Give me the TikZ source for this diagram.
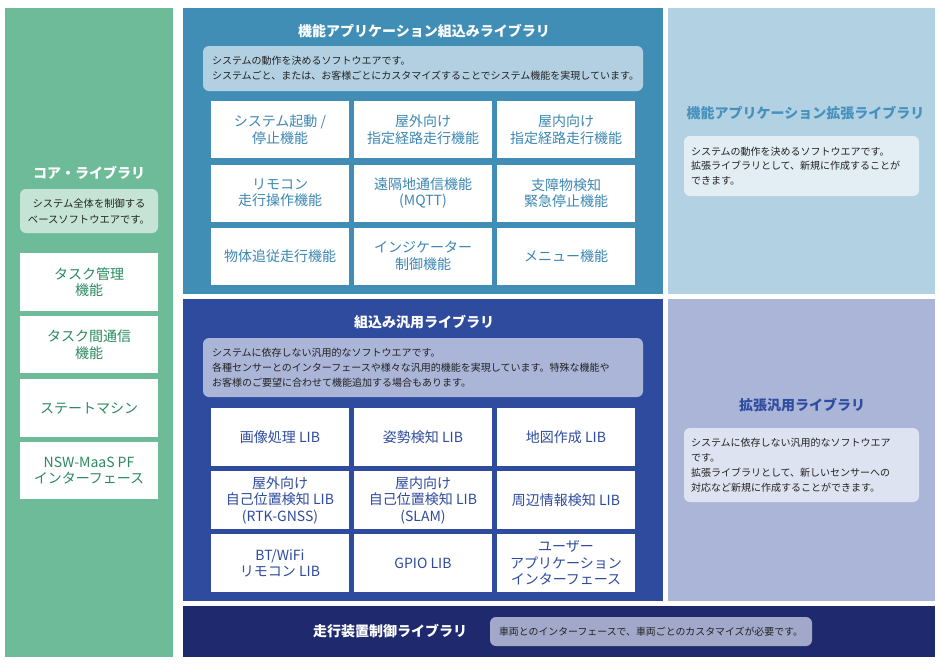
\documentclass[tikz,border=0pt]{standalone}
\usepackage{fontspec}
\setmainfont{Noto Sans CJK JP}
\definecolor{gPanel}{HTML}{6DBB99}
\definecolor{gNote}{HTML}{C6E4D6}
\definecolor{gText}{HTML}{2B8A5F}
\definecolor{bPanel}{HTML}{408EB6}
\definecolor{bNote}{HTML}{B2D0E2}
\definecolor{bText}{HTML}{3C87B2}
\definecolor{bxPanel}{HTML}{B2D1E2}
\definecolor{bxTitle}{HTML}{4791BD}
\definecolor{bxNote}{HTML}{E2EDF4}
\definecolor{nPanel}{HTML}{2E4B9E}
\definecolor{nNote}{HTML}{AAB5D8}
\definecolor{nxPanel}{HTML}{AAB5D8}
\definecolor{nxTitle}{HTML}{2F4DA0}
\definecolor{nxNote}{HTML}{DEE3F1}
\definecolor{dPanel}{HTML}{1E2A6D}
\definecolor{dNote}{HTML}{A2A8C9}
\definecolor{noteText}{HTML}{222222}
\begin{document}
\begin{tikzpicture}[x=1pt,y=-1pt,
  panel/.style={rectangle,inner sep=0pt,draw=none},
  cell/.style={rectangle,fill=white,inner sep=0pt,minimum width=138pt,align=center,
    font=\fontsize{14pt}{16.5pt}\selectfont},
  note/.style={rectangle,rounded corners=6pt,inner ysep=0pt,text=noteText,
    font=\fontsize{10pt}{15pt}\selectfont},
  ttl/.style={font=\bfseries\fontsize{14pt}{16pt}\selectfont,inner sep=0pt}]
\useasboundingbox (0,0) rectangle (940,665);
\fill[white] (0,0) rectangle (940,665);
% panels
\node[panel,fill=gPanel,minimum width=168pt,minimum height=649pt] (core) at (89,332.5) {};
\node[panel,fill=bPanel,minimum width=480pt,minimum height=286pt] (app) at (423,151) {};
\node[panel,fill=bxPanel,minimum width=267pt,minimum height=286pt] (appx) at (801.5,151) {};
\node[panel,fill=nPanel,minimum width=480pt,minimum height=302pt] (gen) at (423,450) {};
\node[panel,fill=nxPanel,minimum width=267pt,minimum height=302pt] (genx) at (801.5,450) {};
\node[panel,fill=dPanel,minimum width=752pt,minimum height=51pt] (drv) at (559,631.5) {};
% core library
\node[ttl,text=white] (coreT) at (89,173) {コア・ライブラリ};
\node[note,fill=gNote,minimum width=138pt,minimum height=44pt,align=center,
  font=\fontsize{10.3pt}{16pt}\selectfont] (coreN) at (89,211) {システム全体を制御する\\ベースソフトウエアです。};
\begin{scope}[every node/.style={cell,text=gText}]
\node[minimum height=58pt] (c1) at (89,282) {タスク管理\\機能};
\node[minimum height=57pt] (c2) at (89,344.5) {タスク間通信\\機能};
\node[minimum height=58pt] (c3) at (89,408) {ステートマシン};
\node[minimum height=57pt] (c4) at (89,470.5) {NSW-MaaS PF\\インターフェース};
\end{scope}
% app library
\node[ttl,text=white] (appT) at (424,31) {機能アプリケーション組込みライブラリ};
\node[note,fill=bNote,text width=422pt,inner xsep=9pt,minimum height=45pt,align=left] (appN) at (423,68.5)
  {システムの動作を決めるソフトウエアです。\\システムごと、または、お客様ごとにカスタマイズすることでシステム機能を実現しています。};
\begin{scope}[every node/.style={cell,text=bText,minimum height=57pt}]
\node (a1) at (280,129.5) {システム起動 /\\停止機能};
\node (a2) at (423,129.5) {屋外向け\\指定経路走行機能};
\node (a3) at (566,129.5) {屋内向け\\指定経路走行機能};
\node (a4) at (280,193) {リモコン\\走行操作機能};
\node (a5) at (423,193) {遠隔地通信機能\\(MQTT)};
\node (a6) at (566,193) {支障物検知\\緊急停止機能};
\node (a7) at (280,256) {物体追従走行機能};
\node (a8) at (423,256) {インジケーター\\制御機能};
\node (a9) at (566,256) {メニュー機能};
\end{scope}
% app extension
\node[ttl,text=bxTitle] (appxT) at (805.5,113) {機能アプリケーション拡張ライブラリ};
\node[note,fill=bxNote,text width=221pt,inner xsep=7pt,minimum height=60pt,align=left,
  font=\fontsize{10pt}{14.5pt}\selectfont] (appxN) at (801.5,166)
  {システムの動作を決めるソフトウエアです。\\拡張ライブラリとして、新規に作成することが\\できます。};
% general library
\node[ttl,text=white] (genT) at (424,322) {組込み汎用ライブラリ};
\node[note,fill=nNote,text width=422pt,inner xsep=9pt,minimum height=59pt,align=left] (genN) at (423,367.5)
  {システムに依存しない汎用的なソフトウエアです。\\各種センサーとのインターフェースや様々な汎用的機能を実現しています。特殊な機能や\\お客様のご要望に合わせて機能追加する場合もあります。};
\begin{scope}[every node/.style={cell,text=nPanel,minimum height=58pt}]
\node (g1) at (280,437) {画像処理 LIB};
\node (g2) at (423,437) {姿勢検知 LIB};
\node (g3) at (566,437) {地図作成 LIB};
\node (g4) at (280,500) {屋外向け\\自己位置検知 LIB\\(RTK-GNSS)};
\node (g5) at (423,500) {屋内向け\\自己位置検知 LIB\\(SLAM)};
\node (g6) at (566,500) {周辺情報検知 LIB};
\node (g7) at (280,563) {BT/WiFi\\リモコン LIB};
\node (g8) at (423,563) {GPIO LIB};
\node (g9) at (566,563) {ユーザー\\アプリケーション\\インターフェース};
\end{scope}
% general extension
\node[ttl,text=nxTitle] (genxT) at (802,405) {拡張汎用ライブラリ};
\node[note,fill=nxNote,text width=221pt,inner xsep=7pt,minimum height=74pt,align=left,
  font=\fontsize{10pt}{15pt}\selectfont] (genxN) at (801.5,465)
  {システムに依存しない汎用的なソフトウエア\\です。\\拡張ライブラリとして、新しいセンサーへの\\対応など新規に作成することができます。};
% drive library
\node[ttl,text=white] (drvT) at (390,631) {走行装置制御ライブラリ};
\node[note,fill=dNote,minimum width=322pt,minimum height=29pt,align=center,
  font=\fontsize{9.9pt}{12pt}\selectfont] (drvN) at (651,631.5)
  {車両とのインターフェースで、車両ごとのカスタマイズが必要です。};
\end{tikzpicture}
\end{document}
